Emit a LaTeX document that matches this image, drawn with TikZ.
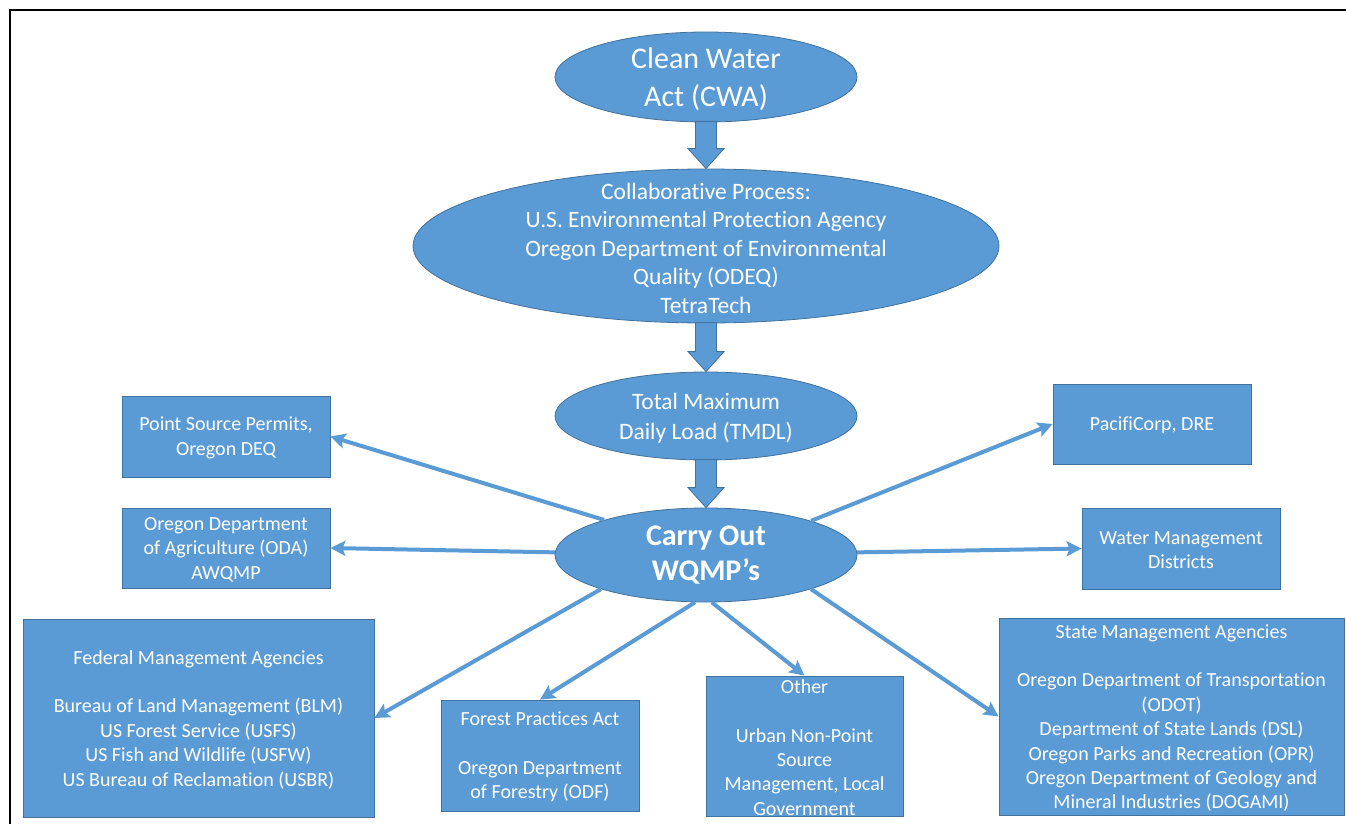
\documentclass[tikz,border=0pt]{standalone}
\usepackage{fontspec}
\setmainfont{Carlito}[Ligatures=NoCommon]
\usetikzlibrary{shapes.geometric,arrows.meta,calc}
\definecolor{boxblue}{RGB}{91,155,213}
\definecolor{edgeblue}{RGB}{65,113,156}

\begin{document}
\begin{tikzpicture}[x=1pt,y=-1pt,
  oval/.style={ellipse, fill=boxblue, draw=edgeblue, line width=0.8pt, inner sep=0pt},
  panel/.style={rectangle, fill=boxblue, draw=edgeblue, line width=0.8pt, inner sep=0pt},
  txt/.style={text=white, align=center, inner sep=0pt},
  small/.style={txt, font=\fontsize{20}{24.4}\selectfont},
  link/.style={draw=boxblue, line width=4pt, -{Stealth[length=15pt,width=15pt,inset=3pt]}},
  bigarrow/.style={fill=boxblue, draw=edgeblue, line width=0.8pt, line join=miter}]

\useasboundingbox (0,0) rectangle (1346,824);
\fill[white] (0,0) rectangle (1346,824);
% page frame (top and left edges)
\draw[line width=2.6pt] (10,824) -- (10,10) -- (1346,10);

% process ellipses
\node[oval, minimum width=302pt, minimum height=90pt] (cwa) at (706,77) {};
\node[oval, minimum width=586pt, minimum height=154pt] (collab) at (706,246) {};
\node[oval, minimum width=302pt, minimum height=88pt] (tmdl) at (706,416) {};
\node[oval, minimum width=302pt, minimum height=94pt] (carry) at (706,555) {};

\node[txt, font=\fontsize{30}{38}\selectfont] (cwa-t) at ($(cwa)+(0,2.5)$) {Clean Water\\Act (CWA)};
\node[txt, font=\fontsize{23.5}{28.5}\selectfont] (collab-t) at ($(collab)+(0,2)$)
  {Collaborative Process:\\U.S. Environmental Protection Agency\\Oregon Department of Environmental\\Quality (ODEQ)\\TetraTech};
\node[txt, font=\fontsize{23.5}{30}\selectfont] (tmdl-t) at ($(tmdl)+(0,2)$) {Total Maximum\\Daily Load (TMDL)};
\node[txt, font=\fontsize{30}{35}\selectfont\bfseries] (carry-t) at (carry) {Carry Out\\WQMP’s};

% block arrows between the ellipses
\foreach \a/\b in {cwa/collab, collab/tmdl, tmdl/carry}{
  \draw[bigarrow] ($(\a.south)+(-10.5,-1)$) -- ($(\b.north)+(-10.5,-20)$)
    -- ($(\b.north)+(-18,-20)$) -- (\b.north) -- ($(\b.north)+(18,-20)$)
    -- ($(\b.north)+(10.5,-20)$) -- ($(\a.south)+(10.5,-1)$) -- cycle;
}

% agency panels
\node[panel, minimum width=208pt, minimum height=81pt] (ps) at (226,436.5) {};
\node[panel, minimum width=208pt, minimum height=80pt] (oda) at (226,548) {};
\node[panel, minimum width=198pt, minimum height=80pt] (pac) at (1152,424) {};
\node[panel, minimum width=198pt, minimum height=81pt] (wm) at (1181,548.5) {};
\node[panel, minimum width=351pt, minimum height=198pt] (fed) at (198.5,718) {};
\node[panel, minimum width=198pt, minimum height=111pt] (forest) at (540,755.5) {};
\node[panel, minimum width=197pt, minimum height=140pt] (other) at (804.5,746) {};
\node[panel, minimum width=345pt, minimum height=197pt] (state) at (1171.5,716.5) {};

\node[small] (ps-t) at ($(ps)+(0,1.5)$) {Point Source Permits,\\Oregon DEQ};
\node[small] (oda-t) at ($(oda)+(0,1.5)$) {Oregon Department\\of Agriculture (ODA)\\AWQMP};
\node[small] (pac-t) at ($(pac)+(0,1.5)$) {PacifiCorp, DRE};
\node[small] (wm-t) at ($(wm)+(0,1.5)$) {Water Management\\Districts};
\node[small] (fed-t) at ($(fed)+(0,1.5)$) {Federal Management Agencies\\\mbox{}\\Bureau of Land Management (BLM)\\US Forest Service (USFS)\\US Fish and Wildlife (USFW)\\US Bureau of Reclamation (USBR)};
\node[small] (forest-t) at ($(forest)+(0,1.5)$) {Forest Practices Act\\\mbox{}\\Oregon Department\\of Forestry (ODF)};
\node[small] (other-t) at ($(other)+(0,1.5)$) {Other\\\mbox{}\\Urban Non-Point\\Source\\Management, Local\\Government};
\node[small] (state-t) at ($(state)+(0,1.5)$) {State Management Agencies\\\mbox{}\\Oregon Department of Transportation\\(ODOT)\\Department of State Lands (DSL)\\Oregon Parks and Recreation (OPR)\\Oregon Department of Geology and\\Mineral Industries (DOGAMI)};

% connectors from the WQMP ellipse
\draw[link] (carry.161.6) -- (ps.east);
\draw[link] (carry.179) -- (oda.east);
\draw[link] (carry.18.8) -- (pac.west);
\draw[link] (carry.1) -- (wm.west);
\draw[link] (carry.198) -- (fed.east);
\draw[link] (carry.257) -- (forest.north);
\draw[link] (carry.277) -- (other.north);
\draw[link] (carry.342) -- (state.west);
\end{tikzpicture}
\end{document}
